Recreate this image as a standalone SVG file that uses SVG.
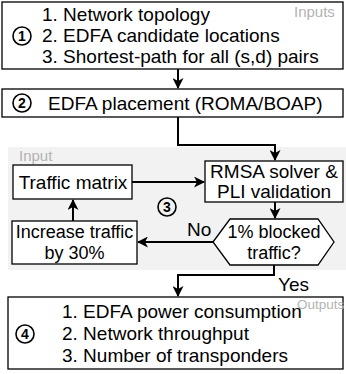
<svg xmlns="http://www.w3.org/2000/svg" width="346" height="374" viewBox="0 0 346 374">
<defs>
<marker id="ah" markerWidth="11" markerHeight="11" refX="10" refY="5.5" orient="auto" markerUnits="userSpaceOnUse">
<path d="M0,0 L11,5.5 L0,11 L3,5.5 Z" fill="#000"/>
</marker>
<style>
.box{fill:#fff;stroke:#000;stroke-width:1.3}
.t{font-family:"Liberation Sans",Arial,sans-serif;font-size:19px;fill:#000}
.s{font-size:18px}
.g{font-family:"Liberation Sans",Arial,sans-serif;font-size:15px;fill:#b3b3b3}
.c{fill:none;stroke:#000;stroke-width:1.6}
.n{font-family:"Liberation Sans",Arial,sans-serif;font-size:14px;font-weight:bold;fill:#000}
.conn{fill:none;stroke:#000;stroke-width:2}
</style>
</defs>
<rect x="0" y="0" width="346" height="374" fill="#fff"/>
<rect id="group3" x="8" y="147" width="338" height="123" fill="#f2f2f2"/>
<text class="g" x="19" y="161">Input</text>
<g id="inputs">
<rect class="box" x="2" y="2" width="341" height="67"/>
<text class="g" x="294" y="17">Inputs</text>
<text class="t" x="42" y="21">1. Network topology</text>
<text class="t" x="42" y="42">2. EDFA candidate locations</text>
<text class="t" x="42" y="63">3. Shortest-path for all (s,d) pairs</text>
<circle class="c" cx="22" cy="36" r="9"/>
<text class="n" x="22" y="41" text-anchor="middle">1</text>
</g>
<g id="placement">
<rect class="box" x="2" y="89" width="341" height="28"/>
<circle class="c" cx="22" cy="103" r="9"/>
<text class="n" x="22" y="108" text-anchor="middle">2</text>
<text class="t" x="48" y="110">EDFA placement (ROMA/BOAP)</text>
</g>
<g id="traffic">
<rect class="box" x="13" y="165" width="119" height="34"/>
<text class="t" x="73" y="189" text-anchor="middle">Traffic matrix</text>
</g>
<g id="rmsa">
<rect class="box" x="205" y="161" width="138" height="41"/>
<text class="t" x="274" y="178" text-anchor="middle">RMSA solver &amp;</text>
<text class="t" x="274" y="198" text-anchor="middle">PLI validation</text>
</g>
<g id="blocked">
<polygon class="box" points="213,242 230,219 318,219 334,242 318,265 230,265"/>
<text class="t s" x="274" y="238" text-anchor="middle">1% blocked</text>
<text class="t s" x="274" y="259" text-anchor="middle">traffic?</text>
</g>
<g id="increase">
<rect class="box" x="12" y="221" width="125" height="43"/>
<text class="t s" x="74.5" y="238" text-anchor="middle">Increase traffic</text>
<text class="t s" x="74.5" y="259" text-anchor="middle">by 30%</text>
</g>
<g id="step3">
<circle class="c" cx="167" cy="207" r="9"/>
<text class="n" x="167" y="212" text-anchor="middle">3</text>
</g>
<g id="outputs">
<rect class="box" x="8" y="297" width="335" height="72"/>
<text class="g" x="297" y="309" style="font-size:13.5px">Outputs</text>
<text class="t" x="62" y="318">1. EDFA power consumption</text>
<text class="t" x="62" y="340">2. Network throughput</text>
<text class="t" x="62" y="362">3. Number of transponders</text>
<circle class="c" cx="25" cy="334" r="9"/>
<text class="n" x="25" y="339" text-anchor="middle">4</text>
</g>
<g id="connectors">
<path class="conn" d="M178,69 V88" marker-end="url(#ah)"/>
<path class="conn" d="M178,117 V145 H275 V160" marker-end="url(#ah)"/>
<path class="conn" d="M132,182 H204" marker-end="url(#ah)"/>
<path class="conn" d="M275,202 V218" marker-end="url(#ah)"/>
<path class="conn" d="M213,242 H138" marker-end="url(#ah)"/>
<path class="conn" d="M73,221 V200" marker-end="url(#ah)"/>
<path class="conn" d="M274,265 V275 H178 V296" marker-end="url(#ah)"/>
<text class="t" x="187" y="236">No</text>
<text class="t" x="278" y="291">Yes</text>
</g>
</svg>
